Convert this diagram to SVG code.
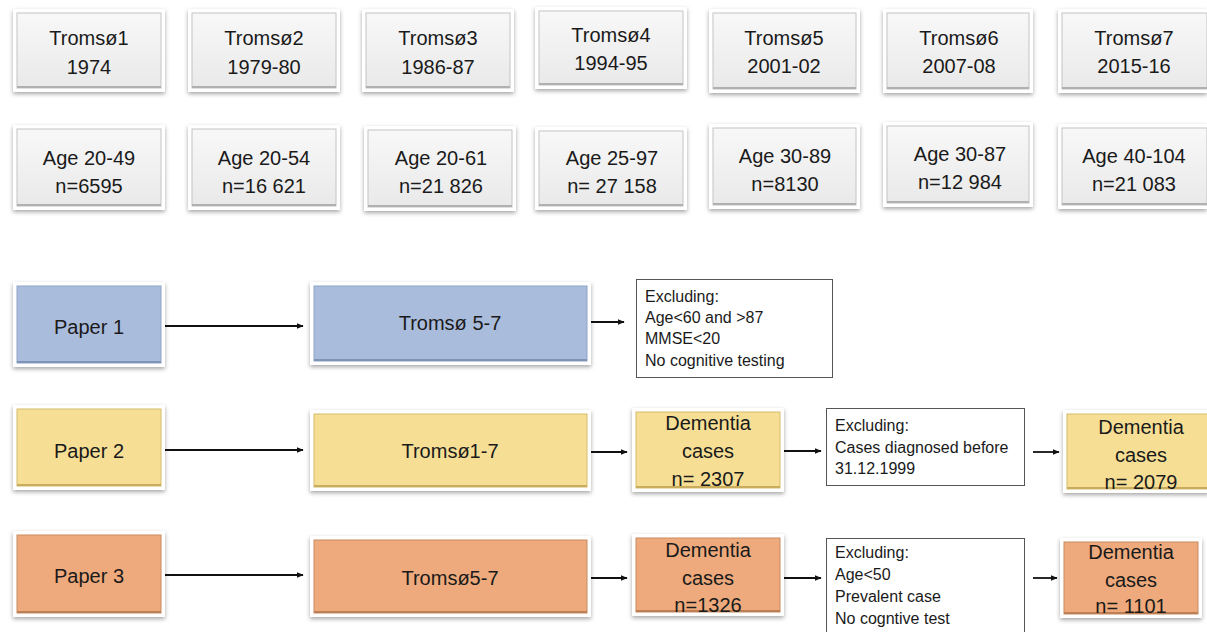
<svg xmlns="http://www.w3.org/2000/svg" width="1207" height="632" viewBox="0 0 1207 632">
<defs>
<filter id="sh" x="-10%" y="-10%" width="120%" height="130%">
<feDropShadow dx="0" dy="2" stdDeviation="2" flood-color="#000" flood-opacity="0.35"/>
</filter>
<linearGradient id="gg" x1="0" y1="0" x2="0" y2="1">
<stop offset="0" stop-color="#f8f8f8"/>
<stop offset="1" stop-color="#e9e9e9"/>
</linearGradient>
<marker id="ah" viewBox="0 0 10 10" refX="9" refY="5" markerWidth="7" markerHeight="7" markerUnits="userSpaceOnUse" orient="auto">
<path d="M0,1 L10,5 L0,9 z" fill="#111"/>
</marker>
</defs>
<style>
.outer{fill:#fff;filter:url(#sh);}
.gray{fill:url(#gg);stroke:#c4c4c4;stroke-width:1;}
.blue{fill:#aabcdc;stroke:#8ea3c6;stroke-width:1;}
.yel{fill:#f6df95;stroke:#d4bb6c;stroke-width:1;}
.org{fill:#eeaa7c;stroke:#c88b60;stroke-width:1;}
.bev{stroke-width:2;fill:none;}
.t{font-family:"Liberation Sans",Arial,sans-serif;font-size:20px;fill:#1a1a1a;text-anchor:middle;}
.s{font-family:"Liberation Sans",Arial,sans-serif;font-size:16px;fill:#1a1a1a;}
.ex{fill:#fff;stroke:#555;stroke-width:1;}
.c line{stroke:#111;stroke-width:1.8;marker-end:url(#ah);}
</style>

<!-- top row -->
<g id="t1"><rect class="outer" x="13" y="9" width="152" height="83"/><rect class="gray" x="17" y="13" width="144" height="75"/><line class="bev" stroke="#b0b0b0" x1="17" y1="87" x2="161" y2="87"/><text class="t" x="89" y="45">Tromsø1</text><text class="t" x="89" y="74">1974</text></g>
<g id="t2"><rect class="outer" x="188" y="9" width="152" height="83"/><rect class="gray" x="192" y="13" width="144" height="75"/><line class="bev" stroke="#b0b0b0" x1="192" y1="87" x2="336" y2="87"/><text class="t" x="264" y="45">Tromsø2</text><text class="t" x="264" y="74">1979-80</text></g>
<g id="t3"><rect class="outer" x="362" y="9" width="152" height="83"/><rect class="gray" x="366" y="13" width="144" height="75"/><line class="bev" stroke="#b0b0b0" x1="366" y1="87" x2="510" y2="87"/><text class="t" x="438" y="45">Tromsø3</text><text class="t" x="438" y="74">1986-87</text></g>
<g id="t4"><rect class="outer" x="535" y="7" width="152" height="82"/><rect class="gray" x="539" y="11" width="144" height="74"/><line class="bev" stroke="#b0b0b0" x1="539" y1="84" x2="683" y2="84"/><text class="t" x="611" y="42">Tromsø4</text><text class="t" x="611" y="70">1994-95</text></g>
<g id="t5"><rect class="outer" x="709" y="9" width="151" height="84"/><rect class="gray" x="713" y="13" width="143" height="76"/><line class="bev" stroke="#b0b0b0" x1="713" y1="88" x2="856" y2="88"/><text class="t" x="784" y="45">Tromsø5</text><text class="t" x="784" y="73">2001-02</text></g>
<g id="t6"><rect class="outer" x="883" y="9" width="150" height="84"/><rect class="gray" x="887" y="13" width="142" height="76"/><line class="bev" stroke="#b0b0b0" x1="887" y1="88" x2="1029" y2="88"/><text class="t" x="959" y="45">Tromsø6</text><text class="t" x="959" y="73">2007-08</text></g>
<g id="t7"><rect class="outer" x="1058" y="9" width="149" height="84"/><rect class="gray" x="1062" y="13" width="145" height="76"/><line class="bev" stroke="#b0b0b0" x1="1062" y1="88" x2="1207" y2="88"/><text class="t" x="1134" y="45">Tromsø7</text><text class="t" x="1134" y="73">2015-16</text></g>

<!-- age row -->
<g id="a1"><rect class="outer" x="13" y="125" width="152" height="85"/><rect class="gray" x="17" y="129" width="144" height="77"/><line class="bev" stroke="#b0b0b0" x1="17" y1="205" x2="161" y2="205"/><text class="t" x="89" y="165">Age 20-49</text><text class="t" x="89" y="193">n=6595</text></g>
<g id="a2"><rect class="outer" x="188" y="125" width="152" height="85"/><rect class="gray" x="192" y="129" width="144" height="77"/><line class="bev" stroke="#b0b0b0" x1="192" y1="205" x2="336" y2="205"/><text class="t" x="264" y="165">Age 20-54</text><text class="t" x="264" y="193">n=16 621</text></g>
<g id="a3"><rect class="outer" x="364" y="126" width="152" height="85"/><rect class="gray" x="368" y="130" width="144" height="77"/><line class="bev" stroke="#b0b0b0" x1="368" y1="206" x2="512" y2="206"/><text class="t" x="441" y="165">Age 20-61</text><text class="t" x="441" y="193">n=21 826</text></g>
<g id="a4"><rect class="outer" x="535" y="127" width="152" height="83"/><rect class="gray" x="539" y="131" width="144" height="75"/><line class="bev" stroke="#b0b0b0" x1="539" y1="205" x2="683" y2="205"/><text class="t" x="612" y="165">Age 25-97</text><text class="t" x="612" y="193">n= 27 158</text></g>
<g id="a5"><rect class="outer" x="709" y="124" width="151" height="85"/><rect class="gray" x="713" y="128" width="143" height="77"/><line class="bev" stroke="#b0b0b0" x1="713" y1="204" x2="856" y2="204"/><text class="t" x="785" y="163">Age 30-89</text><text class="t" x="785" y="191">n=8130</text></g>
<g id="a6"><rect class="outer" x="883" y="122" width="150" height="85"/><rect class="gray" x="887" y="126" width="142" height="77"/><line class="bev" stroke="#b0b0b0" x1="887" y1="202" x2="1029" y2="202"/><text class="t" x="960" y="161">Age 30-87</text><text class="t" x="960" y="189">n=12 984</text></g>
<g id="a7"><rect class="outer" x="1058" y="124" width="149" height="85"/><rect class="gray" x="1062" y="128" width="145" height="77"/><line class="bev" stroke="#b0b0b0" x1="1062" y1="204" x2="1207" y2="204"/><text class="t" x="1134" y="163">Age 40-104</text><text class="t" x="1134" y="191">n=21 083</text></g>

<!-- paper 1 row -->
<g id="p1"><rect class="outer" x="13" y="282" width="152" height="85"/><rect class="blue" x="17" y="286" width="144" height="77"/><line class="bev" stroke="#7f93b6" x1="17" y1="362" x2="161" y2="362"/><text class="t" x="89" y="334">Paper 1</text></g>
<g id="p1t"><rect class="outer" x="310" y="282" width="281" height="83"/><rect class="blue" x="314" y="286" width="273" height="75"/><line class="bev" stroke="#7f93b6" x1="314" y1="360" x2="587" y2="360"/><text class="t" x="450" y="330">Tromsø 5-7</text></g>
<g id="p1e"><rect class="ex" x="636.5" y="279.5" width="196" height="98"/><text class="s" x="645" y="302">Excluding:</text><text class="s" x="645" y="323">Age&lt;60 and &gt;87</text><text class="s" x="645" y="344">MMSE&lt;20</text><text class="s" x="645" y="366">No cognitive testing</text></g>

<!-- paper 2 row -->
<g id="p2"><rect class="outer" x="13" y="405" width="152" height="85"/><rect class="yel" x="17" y="409" width="144" height="77"/><line class="bev" stroke="#c9ad5c" x1="17" y1="485" x2="161" y2="485"/><text class="t" x="89" y="458">Paper 2</text></g>
<g id="p2t"><rect class="outer" x="310" y="410" width="281" height="81"/><rect class="yel" x="314" y="414" width="273" height="73"/><line class="bev" stroke="#c9ad5c" x1="314" y1="486" x2="587" y2="486"/><text class="t" x="450" y="458">Tromsø1-7</text></g>
<g id="p2d"><rect class="outer" x="632" y="408" width="152" height="84"/><rect class="yel" x="636" y="412" width="144" height="76"/><line class="bev" stroke="#c9ad5c" x1="636" y1="487" x2="780" y2="487"/><text class="t" x="708" y="430">Dementia</text><text class="t" x="708" y="458">cases</text><text class="t" x="708" y="486">n= 2307</text></g>
<g id="p2e"><rect class="ex" x="826.5" y="408.5" width="198" height="77"/><text class="s" x="835" y="431">Excluding:</text><text class="s" x="835" y="453">Cases diagnosed before</text><text class="s" x="835" y="474">31.12.1999</text></g>
<g id="p2f"><rect class="outer" x="1063" y="410" width="146" height="83"/><rect class="yel" x="1067" y="414" width="142" height="75"/><line class="bev" stroke="#c9ad5c" x1="1067" y1="488" x2="1207" y2="488"/><text class="t" x="1141" y="434">Dementia</text><text class="t" x="1141" y="462">cases</text><text class="t" x="1141" y="489">n= 2079</text></g>

<!-- paper 3 row -->
<g id="p3"><rect class="outer" x="13" y="531" width="152" height="86"/><rect class="org" x="17" y="535" width="144" height="78"/><line class="bev" stroke="#bd7f55" x1="17" y1="612" x2="161" y2="612"/><text class="t" x="89" y="583">Paper 3</text></g>
<g id="p3t"><rect class="outer" x="310" y="536" width="281" height="81"/><rect class="org" x="314" y="540" width="273" height="73"/><line class="bev" stroke="#bd7f55" x1="314" y1="612" x2="587" y2="612"/><text class="t" x="450" y="585">Tromsø5-7</text></g>
<g id="p3d"><rect class="outer" x="632" y="534" width="152" height="82"/><rect class="org" x="636" y="538" width="144" height="74"/><line class="bev" stroke="#bd7f55" x1="636" y1="611" x2="780" y2="611"/><text class="t" x="708" y="557">Dementia</text><text class="t" x="708" y="585">cases</text><text class="t" x="708" y="612">n=1326</text></g>
<g id="p3e"><rect class="ex" x="826.5" y="538.5" width="198" height="100"/><text class="s" x="835" y="558">Excluding:</text><text class="s" x="835" y="580">Age&lt;50</text><text class="s" x="835" y="602">Prevalent case</text><text class="s" x="835" y="624">No cogntive test</text></g>
<g id="p3f"><rect class="outer" x="1060" y="538" width="142" height="80"/><rect class="org" x="1064" y="542" width="134" height="72"/><line class="bev" stroke="#bd7f55" x1="1064" y1="613" x2="1198" y2="613"/><text class="t" x="1131" y="559">Dementia</text><text class="t" x="1131" y="587">cases</text><text class="t" x="1131" y="613">n= 1101</text></g>

<!-- connectors -->
<g id="connectors" class="c">
<line x1="165" y1="326" x2="303" y2="326"/>
<line x1="591" y1="322" x2="624" y2="322"/>
<line x1="165" y1="450" x2="303" y2="450"/>
<line x1="591" y1="452" x2="627" y2="452"/>
<line x1="784" y1="451" x2="821" y2="451"/>
<line x1="1033" y1="452" x2="1059" y2="452"/>
<line x1="165" y1="575" x2="303" y2="575"/>
<line x1="591" y1="578" x2="627" y2="578"/>
<line x1="784" y1="578" x2="821" y2="578"/>
<line x1="1033" y1="578" x2="1057" y2="578"/>
</g>
</svg>
